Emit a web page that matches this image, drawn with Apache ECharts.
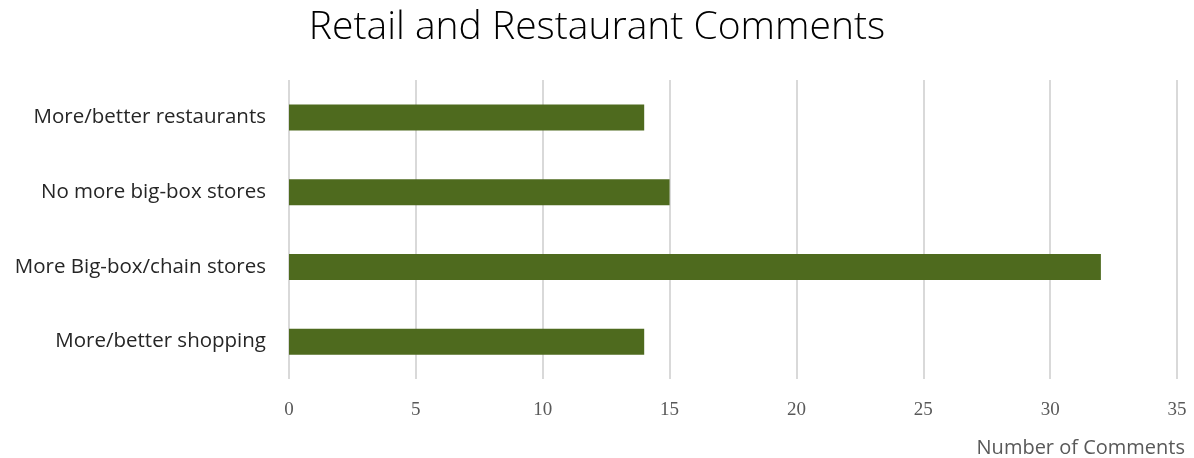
<!DOCTYPE html>
<html>
<head>
<meta charset="utf-8">
<script src="https://cdn.jsdelivr.net/npm/echarts@6/dist/echarts.min.js"></script>
<style>
  html, body { margin: 0; padding: 0; background: #ffffff; }
  #chart { width: 1194px; height: 458px; }
</style>
</head>
<body>
<div id="chart"></div>
<script>
// categories, bottom to top (as the category axis draws them)
const categories = ['More/better shopping', 'More Big-box/chain stores', 'No more big-box stores', 'More/better restaurants'];
const commentCounts = [14, 32, 15, 14];
const xTicks = [0, 5, 10, 15, 20, 25, 30, 35];

const chart = echarts.init(document.getElementById('chart'));

const option = {
  animation: false,
  title: {
    text: 'Retail and Restaurant Comments',
    left: 'center',
    top: 3,
    textStyle: {
      fontFamily: 'Open Sans',
      fontWeight: 300,
      fontSize: 39,
      color: '#000000'
    }
  },
  grid: { left: 289, right: 17, top: 80, bottom: 78 },
  xAxis: {
    type: 'value',
    min: xTicks[0],
    max: xTicks[xTicks.length - 1],
    interval: 5,
    name: 'Number of Comments',
    nameLocation: 'end',
    nameGap: 8,
    nameTextStyle: {
      fontFamily: 'Open Sans',
      fontSize: 20,
      color: '#595959',
      align: 'right',
      verticalAlign: 'top',
      padding: [59, 0, 0, 0]
    },
    axisLine: { show: false },
    axisTick: { show: false },
    axisLabel: {
      margin: 22,
      fontFamily: 'Liberation Serif',
      fontSize: 19,
      color: '#595959'
    },
    splitLine: { lineStyle: { color: '#d9d9d9', width: 2 } }
  },
  yAxis: {
    type: 'category',
    data: categories,
    axisLine: { show: false },
    axisTick: { show: false },
    axisLabel: {
      margin: 23,
      fontFamily: 'Open Sans',
      fontSize: 20.5,
      color: '#262626',
      padding: [4, 0, 0, 0]
    }
  },
  series: [{
    type: 'bar',
    data: commentCounts,
    barWidth: 26,
    itemStyle: { color: '#4e6a1e' }
  }]
};

chart.setOption(option);
</script>
</body>
</html>
